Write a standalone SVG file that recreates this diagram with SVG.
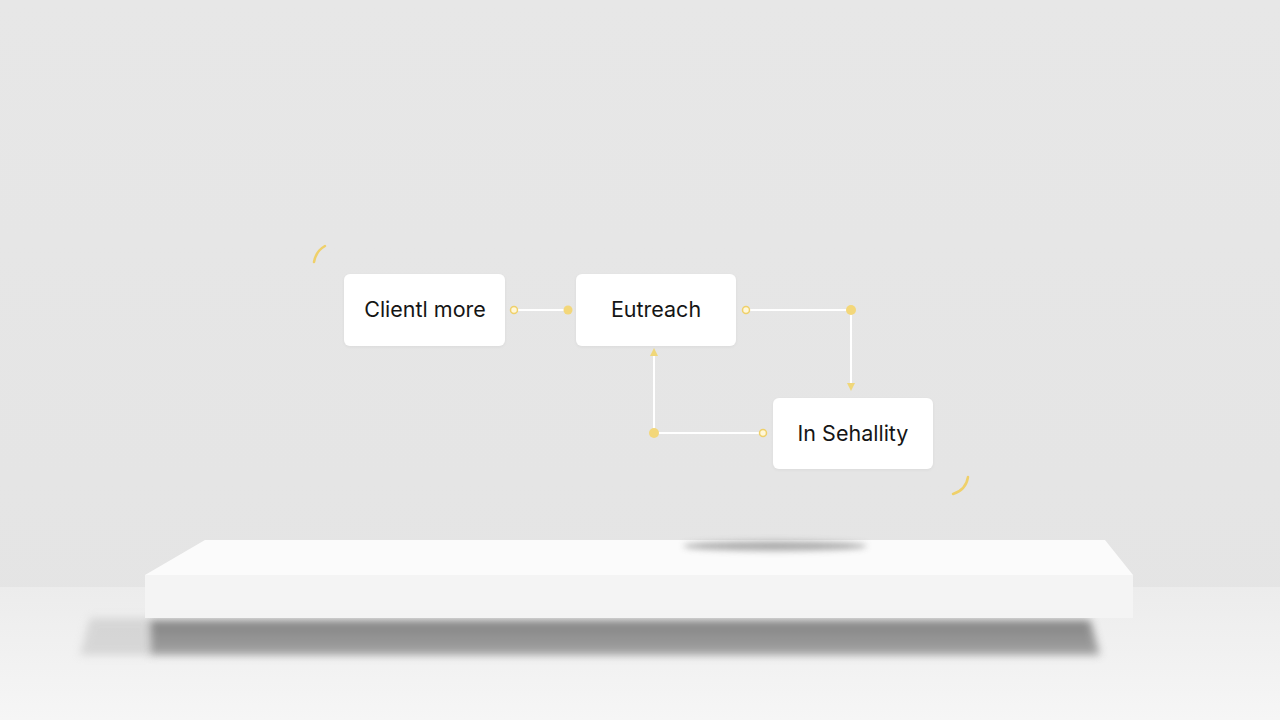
<svg xmlns="http://www.w3.org/2000/svg" width="1280" height="720" viewBox="0 0 1280 720">
<defs>
<linearGradient id="bg" x1="0" y1="0" x2="0" y2="1">
<stop offset="0" stop-color="#e7e7e7"/><stop offset="1" stop-color="#e4e4e4"/>
</linearGradient>
<linearGradient id="floor" x1="0" y1="0" x2="0" y2="1">
<stop offset="0" stop-color="#ececec"/><stop offset="1" stop-color="#f6f6f6"/>
</linearGradient>
<linearGradient id="shadow" x1="0" y1="0" x2="0" y2="1">
<stop offset="0" stop-color="#727272"/><stop offset="1" stop-color="#959595"/>
</linearGradient>
<filter id="blur" x="-20%" y="-50%" width="140%" height="200%"><feGaussianBlur stdDeviation="4"/></filter>
<filter id="blur2" x="-20%" y="-100%" width="140%" height="300%"><feGaussianBlur stdDeviation="3"/></filter>
<filter id="ns" x="-10%" y="-10%" width="120%" height="130%"><feDropShadow dx="0" dy="1" stdDeviation="1.5" flood-color="#000" flood-opacity="0.05"/></filter>
<marker id="arr" viewBox="0 0 10 10" refX="5" refY="5" markerWidth="5" markerHeight="5" orient="auto-start-reverse">
<path d="M1,1 L9,5 L1,9 Z" fill="#f0d77a"/>
</marker>
</defs>
<style>
.node{fill:#ffffff;filter:url(#ns)}
.lbl{font-family:"Inter","Liberation Sans",sans-serif;font-size:21.5px;fill:#151515;text-anchor:middle}
.ln{stroke:#ffffff;stroke-width:2;fill:none}
.dot{fill:#f3d77a}
.ring{fill:#fff7d8;stroke:#efd06a;stroke-width:1.5}
.deco{stroke:#efd06a;stroke-width:2.5;fill:none;stroke-linecap:round}
</style>
<rect width="1280" height="720" fill="url(#bg)"/>
<rect y="587" width="1280" height="133" fill="url(#floor)"/>
<g id="platform">
<polygon points="90,618 150,618 150,655 80,655" fill="#bdbdbd" filter="url(#blur)" opacity="0.5"/>
<polygon points="150,620 1090,620 1100,655 150,655" fill="url(#shadow)" filter="url(#blur)" opacity="0.85"/>
<polygon points="205,540 1105,540 1133,575 145,575" fill="#fbfbfb"/>
<rect x="145" y="575" width="988" height="43" fill="#f4f4f4"/>
<ellipse cx="775" cy="546" rx="92" ry="5" fill="#9a9a9a" filter="url(#blur2)" opacity="0.8"/>
</g>
<g id="decor">
<path class="deco" d="M314,262 Q316,251 325,246"/>
<path class="deco" d="M953,494 Q966,490 968,477"/>
</g>
<g id="connectors">
<line class="ln" x1="514" y1="310" x2="568" y2="310"/>
<circle class="ring" cx="514" cy="310" r="3.5"/>
<circle class="dot" cx="568" cy="310" r="4.5"/>
<polyline class="ln" points="746,310 851,310 851,387" marker-end="url(#arr)"/>
<circle class="ring" cx="746" cy="310" r="3.5"/>
<circle class="dot" cx="851" cy="310" r="5"/>
<polyline class="ln" points="763,433 654,433 654,352" marker-end="url(#arr)"/>
<circle class="ring" cx="763" cy="433" r="3.5"/>
<circle class="dot" cx="654" cy="433" r="5"/>
</g>
<g id="node-client">
<rect class="node" x="344" y="274" width="161" height="72" rx="6"/>
<text class="lbl" x="425" y="317">Clientl more</text>
</g>
<g id="node-eutreach">
<rect class="node" x="576" y="274" width="160" height="72" rx="6"/>
<text class="lbl" x="656" y="317">Eutreach</text>
</g>
<g id="node-sehallity">
<rect class="node" x="773" y="398" width="160" height="71" rx="6"/>
<text class="lbl" x="853" y="441">In Sehallity</text>
</g>
</svg>
